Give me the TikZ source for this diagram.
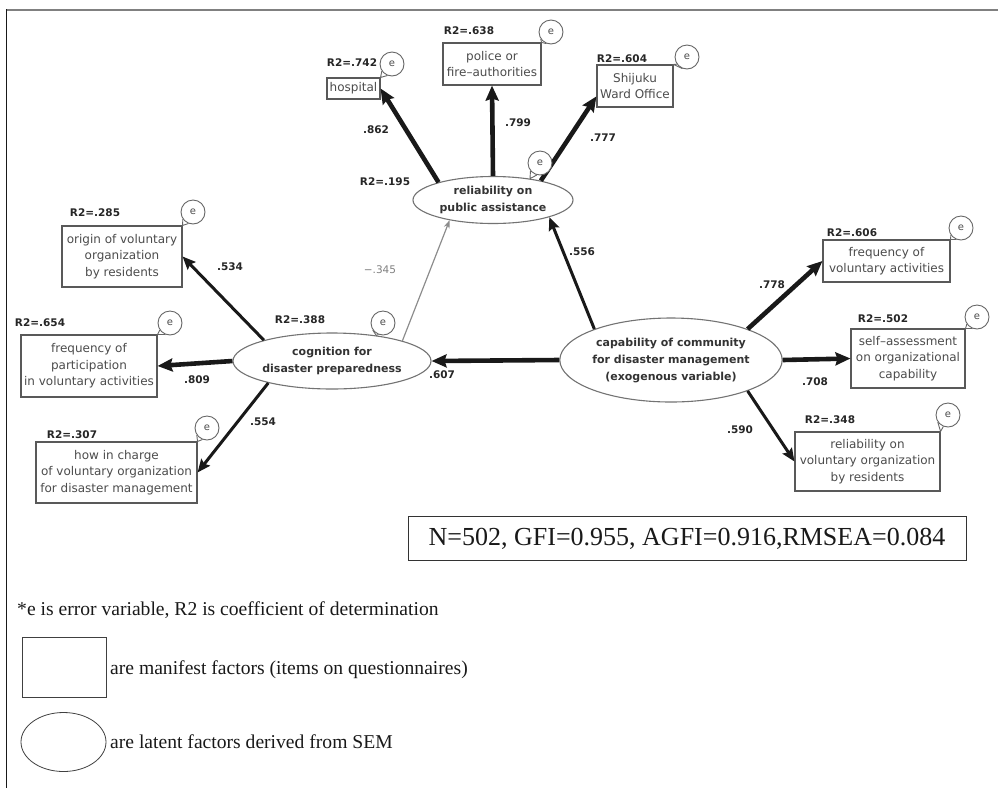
\documentclass[tikz,border=0pt]{standalone}
\usepackage{fontspec}
\setmainfont{Liberation Serif}
\newfontfamily\diagfont{DejaVu Sans}
\usetikzlibrary{arrows.meta,shapes.geometric,calc}

\begin{document}
\begin{tikzpicture}[x=1pt,y=-1pt,
  manifest/.style={rectangle, draw=black!65, line width=1.1pt, fill=white, inner sep=0pt,
    font=\diagfont\fontsize{12}{16.5}\selectfont, text=black!70, align=center},
  latent/.style={ellipse, draw=black!55, line width=1.1pt, fill=white, inner sep=0pt,
    font=\diagfont\bfseries\fontsize{11}{17}\selectfont, text=black!80, align=center},
  errc/.style={circle, draw=black!60, line width=0.9pt, fill=white, minimum size=24pt,
    inner sep=0pt, font=\diagfont\fontsize{10}{10}\selectfont, text=black!70},
  errtail/.style={draw=black!60, line width=0.9pt},
  rtwo/.style={font=\diagfont\bfseries\fontsize{10.5}{12}\selectfont, text=black!85},
  coef/.style={font=\diagfont\bfseries\fontsize{10.5}{12}\selectfont, text=black!85},
  heavy/.style={line width=4.6pt, black!90, -{Stealth[length=15pt,width=13pt,inset=2pt]}},
  medium/.style={line width=3pt, black!90, -{Stealth[length=13pt,width=11pt,inset=2pt]}},
  weak/.style={line width=1.2pt, black!45, -{Stealth[length=8pt,width=6pt]}},
  note/.style={font=\fontsize{19.6}{22}\selectfont, text=black!90}
]
\useasboundingbox (0,0) rectangle (998,788);

% frame
\draw[black!50, line width=2pt] (6,10) -- (998,10);
\draw[black!90, line width=1.4pt] (6.5,9) -- (6.5,788);

% latent factors
\node[latent, minimum width=160pt, minimum height=47pt] (rel) at (493,200)
  {reliability on\\public assistance};
\node[latent, minimum width=198pt, minimum height=56pt] (cog) at (332,361)
  {cognition for\\disaster preparedness};
\node[latent, minimum width=222pt, minimum height=84pt] (cap) at (671,360)
  {capability of community\\for disaster management\\(exogenous variable)};

% manifest factors
\node[manifest, minimum width=53pt, minimum height=21pt] (hosp) at (353.5,88.5) {hospital};
\node[manifest, minimum width=98pt, minimum height=42pt] (pol) at (492,64) {police or\\fire–authorities};
\node[manifest, minimum width=76pt, minimum height=42pt] (shij) at (635,86) {Shijuku\\Ward Office};
\node[manifest, minimum width=120pt, minimum height=61pt] (orig) at (122,256.5) {origin of voluntary\\organization\\by residents};
\node[manifest, minimum width=136pt, minimum height=62pt] (frqp) at (89,366) {frequency of\\participation\\in voluntary activities};
\node[manifest, minimum width=161pt, minimum height=61pt] (chg) at (116.5,472.5) {how in charge\\of voluntary organization\\for disaster management};
\node[manifest, minimum width=127pt, minimum height=42pt] (frqv) at (886.5,261) {frequency of\\voluntary activities};
\node[manifest, minimum width=114pt, minimum height=59pt] (self) at (908,358.5) {self–assessment\\on organizational\\capability};
\node[manifest, minimum width=145pt, minimum height=59pt] (relv) at (867.5,461.5) {reliability on\\voluntary organization\\by residents};

% paths
\draw[heavy] (rel.162) -- (hosp.east);
\draw[heavy] (rel.north) -- (pol.south);
\draw[heavy] (rel.22) -- (shij.195);
\draw[medium] (cog.163) -- (orig.east);
\draw[heavy] (cog.west) -- (frqp.east);
\draw[medium] (cog.199) -- (chg.east);
\draw[weak] (cog.16) -- (rel.205);
\draw[medium] (cap.158) -- (rel.343);
\draw[heavy] (cap.west) -- (cog.east);
\draw[heavy] (cap.22) -- (frqv.west);
\draw[heavy] (cap.east) -- (self.west);
\draw[medium] (cap.338) -- (relv.west);

% error variables
\node[errc] (ehosp) at (392,64) {e};
\draw[errtail] (ehosp.215) -- (hosp.north east) -- (ehosp.248);
\node[errc] (epol) at (551,32) {e};
\draw[errtail] (epol.215) -- (pol.north east) -- (epol.248);
\node[errc] (eshij) at (687,57) {e};
\draw[errtail] (eshij.215) -- (shij.north east) -- (eshij.248);
\node[errc] (erel) at (540,163) {e};
\draw[errtail] (erel.220) -- (rel.30) -- (erel.255);
\node[errc] (eorig) at (193,212) {e};
\draw[errtail] (eorig.215) -- (orig.north east) -- (eorig.248);
\node[errc] (efrqp) at (170,323) {e};
\draw[errtail] (efrqp.215) -- (frqp.north east) -- (efrqp.248);
\node[errc] (ecog) at (383,323) {e};
\draw[errtail] (ecog.215) -- (cog.30) -- (ecog.248);
\node[errc] (echg) at (207,428) {e};
\draw[errtail] (echg.215) -- (chg.north east) -- (echg.248);
\node[errc] (efrqv) at (961,228) {e};
\draw[errtail] (efrqv.215) -- (frqv.north east) -- (efrqv.248);
\node[errc] (eself) at (977,317) {e};
\draw[errtail] (eself.215) -- (self.north east) -- (eself.248);
\node[errc] (erelv) at (948,415) {e};
\draw[errtail] (erelv.215) -- (relv.north east) -- (erelv.248);

% coefficients of determination
\node[rtwo] (r2hosp) at (352,63) {R2=.742};
\node[rtwo] (r2pol) at (469,31) {R2=.638};
\node[rtwo] (r2shij) at (622,59) {R2=.604};
\node[rtwo] (r2rel) at (385,182) {R2=.195};
\node[rtwo] (r2orig) at (95,213) {R2=.285};
\node[rtwo] (r2frqp) at (40,323) {R2=.654};
\node[rtwo] (r2cog) at (300,320) {R2=.388};
\node[rtwo] (r2chg) at (72,435) {R2=.307};
\node[rtwo] (r2frqv) at (852,233) {R2=.606};
\node[rtwo] (r2self) at (883,319) {R2=.502};
\node[rtwo] (r2relv) at (830,420) {R2=.348};

% path coefficients
\node[coef] (c1) at (376,130) {.862};
\node[coef] (c2) at (518,123) {.799};
\node[coef] (c3) at (603,138) {.777};
\node[coef] (c4) at (230,267) {.534};
\node[coef] (c5) at (197,380) {.809};
\node[coef] (c6) at (263,422) {.554};
\node[coef, text=black!50, font=\diagfont\fontsize{10.5}{12}\selectfont] (c7) at (380,270) {−.345};
\node[coef] (c8) at (582,252) {.556};
\node[coef] (c9) at (442,375) {.607};
\node[coef] (c10) at (772,285) {.778};
\node[coef] (c11) at (815,382) {.708};
\node[coef] (c12) at (740,430) {.590};

% fit indices
\node[font=\fontsize{26}{28}\selectfont, text=black!90, draw=black!80, line width=0.9pt,
  minimum width=558pt, minimum height=44pt, inner sep=0pt]
  (fit) at (687,538.5) {N=502, GFI=0.955, AGFI=0.916,RMSEA=0.084};

% notes and legend
\node[note, anchor=west, inner sep=0pt] (foot) at (17,610)
  {*e is error variable, R2 is coefficient of determination};
\node[rectangle, draw=black!75, line width=0.8pt, minimum width=84pt, minimum height=60pt, inner sep=0pt]
  (legbox) at (64,667) {};
\node[note, anchor=west, inner sep=0pt] (legboxtxt) at (110,670)
  {are manifest factors (items on questionnaires)};
\node[ellipse, draw=black!75, line width=0.8pt, minimum width=85pt, minimum height=59pt, inner sep=0pt]
  (legell) at (63.5,742) {};
\node[note, anchor=west, inner sep=0pt] (legelltxt) at (110,742)
  {are latent factors derived from SEM};
\end{tikzpicture}
\end{document}
